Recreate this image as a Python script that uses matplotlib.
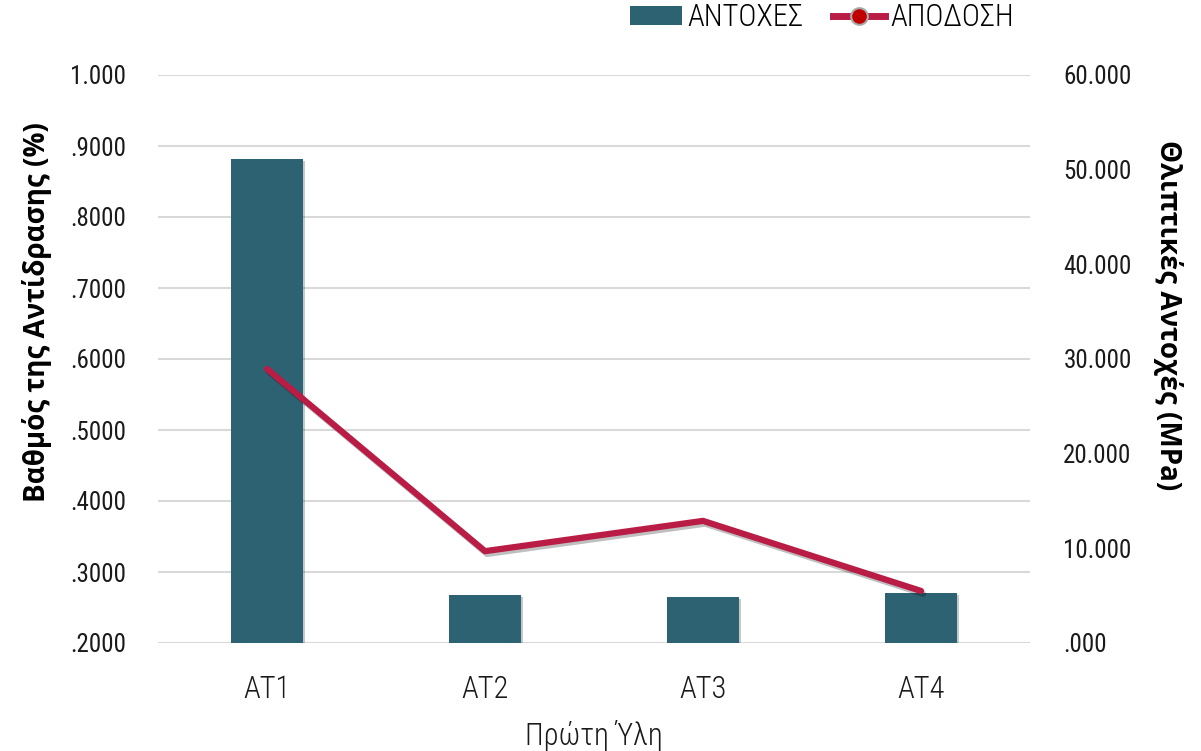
import matplotlib
matplotlib.use("Agg")
import matplotlib.pyplot as plt
import matplotlib.patheffects as pe
from matplotlib.font_manager import FontProperties
from matplotlib.lines import Line2D
from matplotlib.patches import Patch

# Raw material samples and measured values
categories = ["AT1", "AT2", "AT3", "AT4"]
reaction_degree = [0.8817, 0.2676, 0.2648, 0.2704]   # left axis, bars
strength = [28950, 9700, 12900, 5500]                 # right axis, line

left_ticks = [0.2, 0.3, 0.4, 0.5, 0.6, 0.7, 0.8, 0.9, 1.0]
left_labels = [".2000", ".3000", ".4000", ".5000", ".6000", ".7000", ".8000", ".9000", "1.000"]
right_ticks = [0, 10000, 20000, 30000, 40000, 50000, 60000]
right_labels = [".000", "10.000", "20.000", "30.000", "40.000", "50.000", "60.000"]

bar_color = "#2C6271"
line_color = "#B91C45"
grid_color = "#D9D9D9"
text_color = "#1A1A1A"

num_font = FontProperties(family=["Roboto Condensed", "Barlow Semi Condensed", "DejaVu Sans"],
                          stretch="condensed", size=18)
thin_font = FontProperties(family=["Roboto Condensed", "Open Sans", "DejaVu Sans"],
                           stretch="condensed", weight="light", size=22)
bold_font = FontProperties(family=["Open Sans", "DejaVu Sans"], stretch="condensed",
                           weight="bold", size=20)

W, H = 1201, 751
fig = plt.figure(figsize=(W / 100, H / 100), dpi=100)
ax = fig.add_axes([158 / W, (H - 643) / H, 872 / W, 568 / H])
ax2 = ax.twinx()

x = list(range(len(categories)))

# bars on the left scale
ax.bar(x, reaction_degree, width=0.33, bottom=0, color=bar_color, zorder=3,
       path_effects=[pe.SimplePatchShadow(offset=(1.5, -1.5), alpha=0.25, rho=0.4), pe.Normal()])
ax.set_ylim(0.2, 1.0)
ax.set_xlim(-0.5, 3.5)
ax.set_yticks(left_ticks)
ax.set_yticklabels(left_labels, fontproperties=num_font, color=text_color)
ax.set_xticks(x)
ax.set_xticklabels(categories, fontproperties=thin_font, color=text_color)
ax.tick_params(axis="y", length=0, pad=23)
ax.tick_params(axis="x", length=0, pad=23)
ax.grid(axis="y", color=grid_color, linewidth=1.5, zorder=0)
ax.set_axisbelow(True)
for s in ax.spines.values():
    s.set_visible(False)

ax.set_ylabel("Βαθμός της Αντίδρασης (%)", fontproperties=bold_font, color="black")
ax.yaxis.set_label_coords(-0.139, 0.583)
ax.yaxis.label.set_va("center")
ax.set_xlabel("Πρώτη Ύλη", fontproperties=thin_font, color=text_color)
ax.xaxis.set_label_coords(0.5, -0.162)
ax.xaxis.label.set_va("center")

# line on the right scale
ax2.plot(x, strength, color=line_color, linewidth=4.5, solid_capstyle="round", zorder=4,
         path_effects=[pe.SimpleLineShadow(offset=(1.5, -2), alpha=0.25), pe.Normal()])
ax2.set_ylim(0, 60000)
ax2.set_yticks(right_ticks)
ax2.set_yticklabels(right_labels, fontproperties=num_font, color=text_color)
ax2.tick_params(axis="y", length=0, pad=24)
for s in ax2.spines.values():
    s.set_visible(False)
ax2.set_ylabel("Θλιπτικές Αντοχές (MPa)", fontproperties=bold_font, color="black",
               rotation=-90)
ax2.yaxis.set_label_coords(1.158, 0.577)
ax2.yaxis.label.set_va("center")

handles = [
    Patch(facecolor=bar_color, label="ΑΝΤΟΧΕΣ"),
    Line2D([0], [0], color=line_color, linewidth=5, marker="o", markersize=12,
           markerfacecolor="#C00000", markeredgecolor="#A8A8A8", markeredgewidth=1.5,
           label="ΑΠΟΔΟΣΗ"),
]
fig.legend(handles=handles, loc="center", bbox_to_anchor=(822 / W, 1 - 18 / H), ncol=2,
           frameon=False, prop=thin_font, handlelength=1.7, handleheight=0.58,
           handletextpad=0.2, columnspacing=0.95)

fig.savefig("out.png", dpi=100)
